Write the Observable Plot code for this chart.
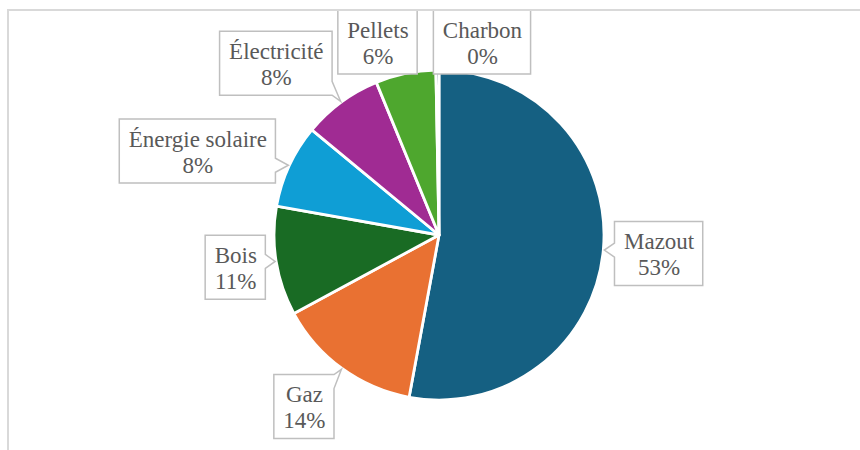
<!DOCTYPE html>
<html><head><meta charset="utf-8">
<script src="https://cdn.jsdelivr.net/npm/d3@7"></script>
<script src="https://cdn.jsdelivr.net/npm/@observablehq/plot@0.6"></script>
<style>
html,body{margin:0;padding:0;background:#fff;overflow:hidden;width:860px;height:450px}
#wrap{position:relative;width:860px;height:450px}
#frame{position:absolute;left:7px;top:9px;width:1000px;height:1000px;border:2px solid #d9d9d9;pointer-events:none}
</style></head><body><div id="wrap"><div id="frame"></div></div>
<script>
// ---- data ----
const categories = ["Mazout", "Gaz", "Bois", "Énergie solaire", "Électricité", "Pellets", "Charbon"];
const shares = [52.9, 14.2, 10.7, 8.2, 7.8, 5.9, 0.3];
const colors = ["#156082", "#E97132", "#196B24", "#0F9ED5", "#A02B93", "#4EA72E", "#0C3A4F"];
// ---- layout (callout nudges in pixels, relative to a radial placement) ----
const labelNudges = [[6, -1], [-9, -2], [8, -2], [-47, 6], [-36, 1], [-18, 17], [45, 21.5]];

const R = 165, CX = 439, CY = 235, LABEL_K = 1.3;
const FONT = "Liberation Serif";
const FS = 23;

const pie = d3.pie().sort(null).value(d => d.share);
const rows = categories.map((c, i) => ({cat: c, share: shares[i], color: colors[i], nudge: labelNudges[i]}));
const arcs = pie(rows);
arcs.forEach(a => {
  const d = a.data;
  d.mid = (a.startAngle + a.endAngle) / 2;
  d.lx = LABEL_K * Math.sin(d.mid) + d.nudge[0] / R;
  d.ly = LABEL_K * Math.cos(d.mid) - d.nudge[1] / R;
  d.label = `${d.cat}\n${Math.round(d.share)}%`;
});

const ctx = document.createElement("canvas").getContext("2d");
ctx.font = `${FS}px "Liberation Serif"`;
const textW = s => Math.max(...s.split("\n").map(l => ctx.measureText(l).width));

function calloutPath(x0, y0, x1, y1, tx, ty) {
  const hw = 7;
  const clamp = (v, a, b) => Math.max(a, Math.min(b, v));
  const dl = x0 - tx, dr = tx - x1, dt = y0 - ty, db = ty - y1;
  const m = Math.max(dl, dr, dt, db);
  if (m < 4) return `M${x0},${y0}H${x1}V${y1}H${x0}Z`;
  if (m === dl) { const c = clamp(ty, y0 + hw, y1 - hw); return `M${x0},${y0}H${x1}V${y1}H${x0}V${c + hw}L${tx},${ty}L${x0},${c - hw}Z`; }
  if (m === dr) { const c = clamp(ty, y0 + hw, y1 - hw); return `M${x0},${y0}H${x1}V${c - hw}L${tx},${ty}L${x1},${c + hw}V${y1}H${x0}Z`; }
  if (m === dt) { const c = clamp(tx, x0 + hw, x1 - hw); return `M${x0},${y0}H${c - hw}L${tx},${ty}L${c + hw},${y0}H${x1}V${y1}H${x0}Z`; }
  const c = clamp(tx, x0 + hw, x1 - hw);
  return `M${x0},${y0}H${x1}V${y1}H${c + hw}L${tx},${ty}L${c - hw},${y1}H${x0}Z`;
}

function pieMark(index, scales) {
  const cx = scales.x(0), cy = scales.y(0), r = scales.x(1) - scales.x(0);
  const g = d3.create("svg:g").attr("transform", `translate(${cx},${cy})`);
  const arc = d3.arc().innerRadius(0).outerRadius(r);
  g.selectAll("path").data(arcs).join("path")
    .attr("d", arc)
    .attr("fill", d => d.data.color)
    .attr("stroke", "#fff")
    .attr("stroke-width", 2.8)
    .attr("stroke-linejoin", "round");
  return g.node();
}

function calloutMark(index, scales) {
  const cx = scales.x(0), cy = scales.y(0), r = scales.x(1) - scales.x(0);
  const g = d3.create("svg:g");
  rows.forEach(d => {
    const px = scales.x(d.lx), py = scales.y(d.ly);
    const w = textW(d.label) + 18, h = 64;
    const x0 = px - w / 2, x1 = px + w / 2, y0 = py - h / 2, y1 = py + h / 2;
    const tx = cx + (r + 1) * Math.sin(d.mid), ty = cy - (r + 1) * Math.cos(d.mid);
    g.append("path")
      .attr("d", calloutPath(x0, y0, x1, y1, tx, ty))
      .attr("fill", "#fff")
      .attr("stroke", "#bfbfbf")
      .attr("stroke-width", 1.5)
      .attr("stroke-linejoin", "miter");
  });
  return g.node();
}

const chart = Plot.plot({
  width: 860,
  height: 450,
  margin: 0,
  style: {background: "transparent"},
  x: {domain: [-1, 1], range: [CX - R, CX + R], axis: null},
  y: {domain: [-1, 1], range: [CY + R, CY - R], axis: null},
  marks: [
    pieMark,
    calloutMark,
    Plot.text(rows, {
      x: "lx", y: "ly", text: "label",
      fontSize: FS, fontFamily: FONT, fill: "#595959",
      lineHeight: 1.12, textAnchor: "middle"
    })
  ]
});
chart.style.position = "absolute";
chart.style.left = "0";
chart.style.top = "0";
document.getElementById("wrap").prepend(chart);
</script>
</body></html>
